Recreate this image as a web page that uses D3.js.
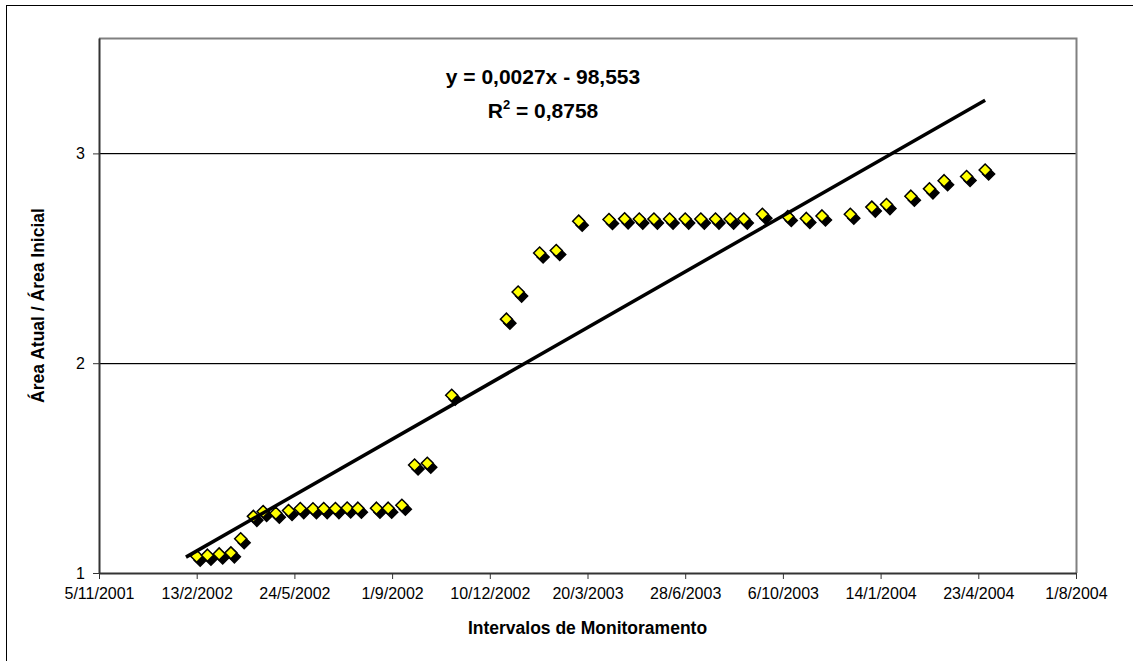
<!DOCTYPE html>
<html>
<head>
<meta charset="utf-8">
<script src="https://cdn.jsdelivr.net/npm/d3@7"></script>
<style>
  html, body { margin: 0; padding: 0; background: #fff; }
  svg { display: block; font-family: Arial, "Liberation Sans", sans-serif; }
</style>
</head>
<body>
<div id="chart"></div>
<script>
// measurement dates (dd/mm/yyyy) and ratio Área Atual / Área Inicial
const dates = [
  '13/2/2002','24/2/2002','8/3/2002','20/3/2002','30/3/2002','12/4/2002','22/4/2002','5/5/2002',
  '18/5/2002','30/5/2002','12/6/2002','23/6/2002','5/7/2002','17/7/2002','28/7/2002','16/8/2002',
  '28/8/2002','11/9/2002','24/9/2002','7/10/2002','1/11/2002','27/12/2002','8/1/2003','30/1/2003',
  '16/2/2003','11/3/2003','11/4/2003','27/4/2003','12/5/2003','27/5/2003','12/6/2003','28/6/2003',
  '14/7/2003','29/7/2003','13/8/2003','27/8/2003','15/9/2003','11/10/2003','30/10/2003','15/11/2003',
  '14/12/2003','5/1/2004','20/1/2004','14/2/2004','4/3/2004','19/3/2004','11/4/2004','30/4/2004'
];
const ratios = [
  1.080, 1.085, 1.091, 1.096, 1.163, 1.270, 1.293, 1.285,
  1.298, 1.307, 1.306, 1.307, 1.307, 1.310, 1.309, 1.309,
  1.309, 1.323, 1.515, 1.523, 1.847, 2.210, 2.339, 2.525,
  2.537, 2.677, 2.685, 2.688, 2.687, 2.687, 2.687, 2.687,
  2.687, 2.687, 2.687, 2.687, 2.710, 2.699, 2.690, 2.702,
  2.710, 2.744, 2.756, 2.796, 2.831, 2.870, 2.890, 2.921
];
const xTickLabels = ['5/11/2001','13/2/2002','24/5/2002','1/9/2002','10/12/2002','20/3/2003',
  '28/6/2003','6/10/2003','14/1/2004','23/4/2004','1/8/2004'];
const yTicks = [1, 2, 3];
const yMax = 3.55;
// trend line drawn over this span (Excel trendline with small backward forecast)
const trendRange = ['2/2/2002', '30/4/2004'];
const eqLines = ['y = 0,0027x - 98,553', 'R² = 0,8758'];

const parse = d3.timeParse('%d/%m/%Y');
const data = dates.map((d, i) => ({date: parse(d), v: ratios[i]}));
const tickDates = xTickLabels.map(parse);

const width = 1133, height = 661;
const margin = {top: 38, right: 57, bottom: 88, left: 99};
const font = 'Arial, "Liberation Sans", sans-serif';

const svg = d3.select('#chart').append('svg').attr('width', width).attr('height', height);
svg.append('rect').attr('width', width).attr('height', height).attr('fill', '#fff');
// outer chart border (only top/left visible in window)
svg.append('rect').attr('x', 6.5).attr('y', 5.5).attr('width', width + 10).attr('height', height + 10)
  .attr('fill', 'none').attr('stroke', '#000').attr('stroke-width', 1);

const x = d3.scaleTime().domain([tickDates[0], tickDates[tickDates.length - 1]])
  .range([margin.left, width - margin.right]);
const y = d3.scaleLinear().domain([1, yMax]).range([height - margin.bottom, margin.top]);

// gridlines
svg.append('g').selectAll('line').data(yTicks.slice(1)).join('line')
  .attr('x1', margin.left).attr('x2', width - margin.right)
  .attr('y1', d => Math.round(y(d)) + 0.5).attr('y2', d => Math.round(y(d)) + 0.5)
  .attr('stroke', '#000').attr('stroke-width', 1);
svg.append('g').selectAll('line').data(yTicks.slice(1)).join('line')
  .attr('x1', margin.left).attr('x2', width - margin.right)
  .attr('y1', d => Math.round(y(d)) + 1.5).attr('y2', d => Math.round(y(d)) + 1.5)
  .attr('stroke', '#c8c8c8').attr('stroke-width', 1);

// plot area frame top/right (grey)
svg.append('path')
  .attr('d', `M${margin.left},${margin.top + 0.5}H${width - margin.right + 0.5}V${height - margin.bottom}`)
  .attr('fill', 'none').attr('stroke', '#808080').attr('stroke-width', 2);

// axes
const xAxis = d3.axisBottom(x).tickValues(tickDates).tickFormat((d, i) => xTickLabels[i])
  .tickSize(6).tickSizeOuter(0);
const gx = svg.append('g').attr('transform', `translate(0,${height - margin.bottom})`).call(xAxis);
gx.select('.domain').attr('stroke', '#333').attr('stroke-width', 2);
gx.selectAll('.tick line').attr('stroke', '#333');
gx.selectAll('.tick text').attr('font-size', 16).attr('fill', '#000').attr('y', 12).attr('dy', '0.9em')
  .attr('font-family', font);

const yAxis = d3.axisLeft(y).tickValues(yTicks).tickFormat(d3.format('d')).tickSize(6).tickSizeOuter(0);
const gy = svg.append('g').attr('transform', `translate(${margin.left},0)`).call(yAxis);
gy.select('.domain').attr('stroke', '#333').attr('stroke-width', 2);
gy.selectAll('.tick line').attr('stroke', '#333');
gy.selectAll('.tick text').attr('font-size', 16).attr('fill', '#000').attr('x', -14)
  .attr('font-family', font);

// markers: black shadow + yellow diamond
const diamond = d3.symbol().type(d3.symbolDiamond2).size(92);
const pts = svg.append('g');
pts.selectAll('path.shadow').data(data).join('path').attr('class', 'shadow')
  .attr('d', diamond)
  .attr('transform', d => `translate(${x(d.date) + 3.5},${y(d.v) + 4})`)
  .attr('fill', '#000').attr('stroke', '#000').attr('stroke-width', 1.5);
pts.selectAll('path.mark').data(data).join('path').attr('class', 'mark')
  .attr('d', diamond)
  .attr('transform', d => `translate(${x(d.date)},${y(d.v)})`)
  .attr('fill', '#ffff00').attr('stroke', '#000').attr('stroke-width', 1.5);

// linear trend (least squares on day numbers)
const days = data.map(d => d.date.getTime() / 864e5);
const mx = d3.mean(days), my = d3.mean(ratios);
const slope = d3.sum(days, (t, i) => (t - mx) * (ratios[i] - my)) / d3.sum(days, t => (t - mx) ** 2);
const icpt = my - slope * mx;
const trend = trendRange.map(parse).map(d => ({date: d, v: icpt + slope * d.getTime() / 864e5}));
svg.append('path').datum(trend)
  .attr('d', d3.line().x(d => x(d.date)).y(d => y(d.v)))
  .attr('stroke', '#000').attr('stroke-width', 3.5).attr('fill', 'none');

// equation label
svg.append('text').attr('x', 543).attr('y', 84).attr('text-anchor', 'middle')
  .attr('font-size', 21).attr('font-weight', 'bold').text(eqLines[0]);
const r2 = svg.append('text').attr('x', 543).attr('y', 118).attr('text-anchor', 'middle')
  .attr('font-size', 21).attr('font-weight', 'bold');
r2.append('tspan').text('R');
r2.append('tspan').attr('font-size', 13).attr('dy', -9).text('2');
r2.append('tspan').attr('dy', 9).text(eqLines[1].slice(2));

// axis titles
svg.append('text').attr('x', (margin.left + width - margin.right) / 2).attr('y', 634)
  .attr('text-anchor', 'middle').attr('font-size', 17.5).attr('font-weight', 'bold')
  .text('Intervalos de Monitoramento');
svg.append('text').attr('transform', `translate(44,${(margin.top + height - margin.bottom) / 2}) rotate(-90)`)
  .attr('text-anchor', 'middle').attr('font-size', 17.5).attr('font-weight', 'bold')
  .text('Área Atual / Área Inicial');
</script>
</body>
</html>
